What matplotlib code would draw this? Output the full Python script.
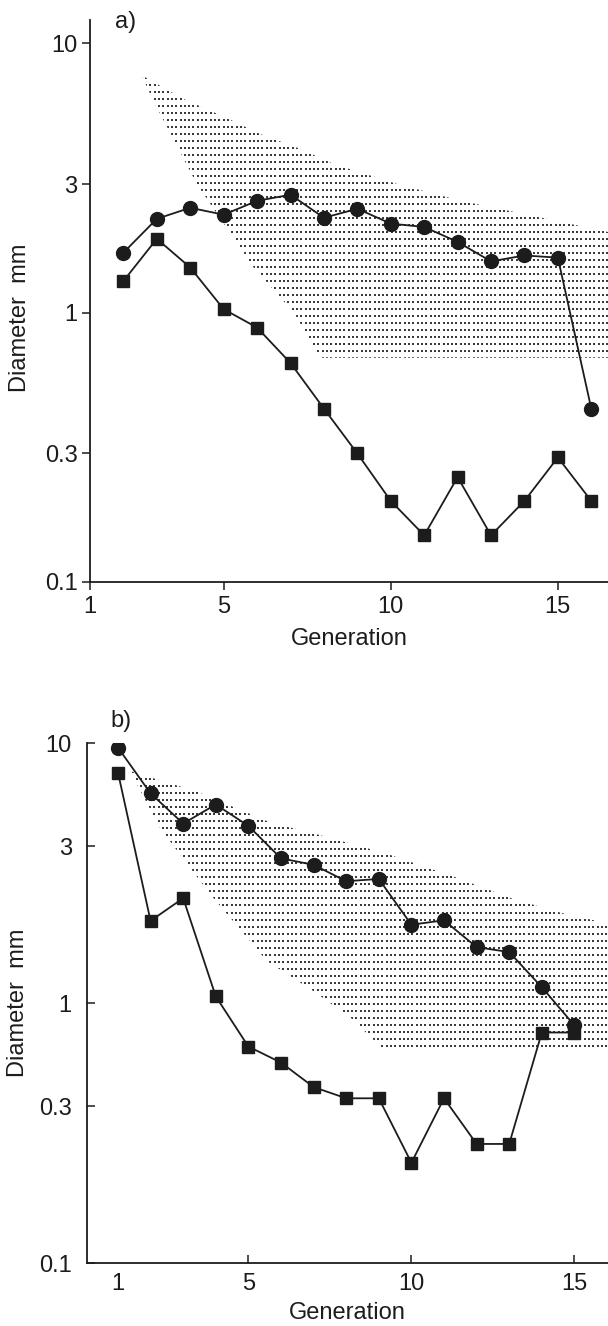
import matplotlib
import numpy as np

matplotlib.use("Agg")
import matplotlib.pyplot as plt
from matplotlib.patches import Polygon

plt.rcParams["font.family"] = ["Liberation Sans", "DejaVu Sans"]

# panel a) data
GEN_A = list(range(2, 17))
CIRCLE_A = [1.67, 2.23, 2.45, 2.31, 2.6, 2.74, 2.25, 2.43, 2.14, 2.08, 1.83, 1.55, 1.63, 1.6, 0.44]
SQUARE_A = [1.31, 1.88, 1.47, 1.03, 0.88, 0.65, 0.44, 0.30, 0.20, 0.149, 0.245, 0.149, 0.20, 0.29, 0.20]
BAND_A_GEN = [2.55, 3.75, 5.1, 6.1, 7.3, 8.3, 10.2, 12.1, 13.8, 16.6, 16.6, 7.9, 7.1, 5.9, 4.2, 2.9]
BAND_A_DIAM = [7.6, 6.25, 5.27, 4.6, 4.05, 3.56, 3.0, 2.6, 2.35, 1.98, 0.68, 0.68, 1.0, 1.47, 3.0, 6.1]

# panel b) data
GEN_B = list(range(1, 16))
CIRCLE_B = [9.6, 6.4, 4.9, 5.8, 4.8, 3.6, 3.4, 2.94, 3.0, 2.0, 2.08, 1.64, 1.57, 1.15, 0.82]
SQUARE_B = [7.7, 2.07, 2.53, 1.06, 0.68, 0.59, 0.475, 0.43, 0.43, 0.243, 0.43, 0.287, 0.287, 0.77, 0.77]
BAND_B_GEN = [1.37, 3.42, 5.75, 6.7, 9.16, 11.4, 13.05, 14.6, 16.2, 16.2, 9.1, 8.15, 7.0, 5.57, 3.82, 2.29]
BAND_B_DIAM = [7.8, 6.5, 4.9, 4.6, 3.78, 3.03, 2.53, 2.22, 2.0, 0.67, 0.67, 0.875, 1.11, 1.45, 2.63, 4.71]

X_TICKS = [1, 5, 10, 15]
Y_TICKS_A = [0.1, 0.3, 1, 3, 10]
Y_TICKS_B = [0.1, 0.4, 1, 4, 10]
Y_LABELS = ["0.1", "0.3", "1", "3", "10"]

INK = "#1c1c1c"


def stipple(ax, gen, diam, x_range, log_range, step_x, step_log):
    band = Polygon(np.column_stack([gen, diam]), closed=True,
                   facecolor="none", edgecolor="none", transform=ax.transData)
    ax.add_patch(band)
    xs = np.arange(x_range[0], x_range[1], step_x)
    ls = np.arange(log_range[0], log_range[1], step_log)
    gx, gy = np.meshgrid(xs, 10 ** ls)
    dots = ax.scatter(gx.ravel(), gy.ravel(), s=2.3, marker="s", color="#3a3a3a",
                      linewidths=0, zorder=1)
    dots.set_clip_path(band)


def draw_series(ax, gen, circles, squares):
    ax.plot(gen, circles, color=INK, lw=1.3, marker="o", ms=10,
            mfc=INK, mec=INK, zorder=3)
    ax.plot(gen, squares, color=INK, lw=1.3, marker="s", ms=8.8,
            mfc=INK, mec=INK, zorder=3)


def style_axes(ax, xlim, ylim, yticks, direction, pad_y, pad_x, labelpad):
    ax.set_yscale("log")
    ax.set_xlim(*xlim)
    ax.set_ylim(*ylim)
    ax.set_xticks(X_TICKS)
    ax.set_xticklabels([str(t) for t in X_TICKS])
    ax.set_yticks(yticks)
    ax.set_yticklabels(Y_LABELS)
    ax.yaxis.set_minor_locator(matplotlib.ticker.NullLocator())
    for side in ("top", "right"):
        ax.spines[side].set_visible(False)
    for side in ("left", "bottom"):
        ax.spines[side].set_linewidth(1.3)
        ax.spines[side].set_color(INK)
    ax.tick_params(axis="y", direction=direction, length=6, width=1.1, pad=pad_y,
                   labelsize=17, colors=INK)
    ax.tick_params(axis="x", direction=direction, length=6, width=1.1, pad=pad_x,
                   labelsize=17, colors=INK)
    ax.set_xlabel("Generation", fontsize=17, color=INK, labelpad=labelpad)
    ax.set_ylabel("Diameter  mm", fontsize=17, color=INK)


fig = plt.figure(figsize=(6.08, 13.26), dpi=100)

ax_a = fig.add_axes([90 / 608, 1 - 582 / 1326, 518 / 608, 562 / 1326])
stipple(ax_a, BAND_A_GEN, BAND_A_DIAM, (1, 16.6), (-0.3, 0.95), 0.129, 0.026)
draw_series(ax_a, GEN_A, CIRCLE_A, SQUARE_A)
style_axes(ax_a, (1, 16.5), (0.1, 12.2), Y_TICKS_A, "out", 3, 4, 7)
ax_a.yaxis.set_label_coords(-0.113, 0.47)
fig.text(115 / 608, 1 - 22 / 1326, "a)", fontsize=17, color=INK, ha="left", va="center")

ax_b = fig.add_axes([87 / 608, 1 - 1263 / 1326, 521 / 608, 520 / 1326])
stipple(ax_b, BAND_B_GEN, BAND_B_DIAM, (0, 16.3), (-0.3, 0.95), 0.132, 0.027)
draw_series(ax_b, GEN_B, CIRCLE_B, SQUARE_B)
style_axes(ax_b, (0.05, 16.03), (0.1, 10), Y_TICKS_B, "in", 11, 7, 5)
ax_b.xaxis.get_major_ticks()[0].tick1line.set_visible(False)
ax_b.yaxis.set_label_coords(-0.112, 0.5)
fig.text(110 / 608, 1 - 721 / 1326, "b)", fontsize=17, color=INK, ha="left", va="center")

fig.savefig("out.png", dpi=100)
plt.close(fig)
